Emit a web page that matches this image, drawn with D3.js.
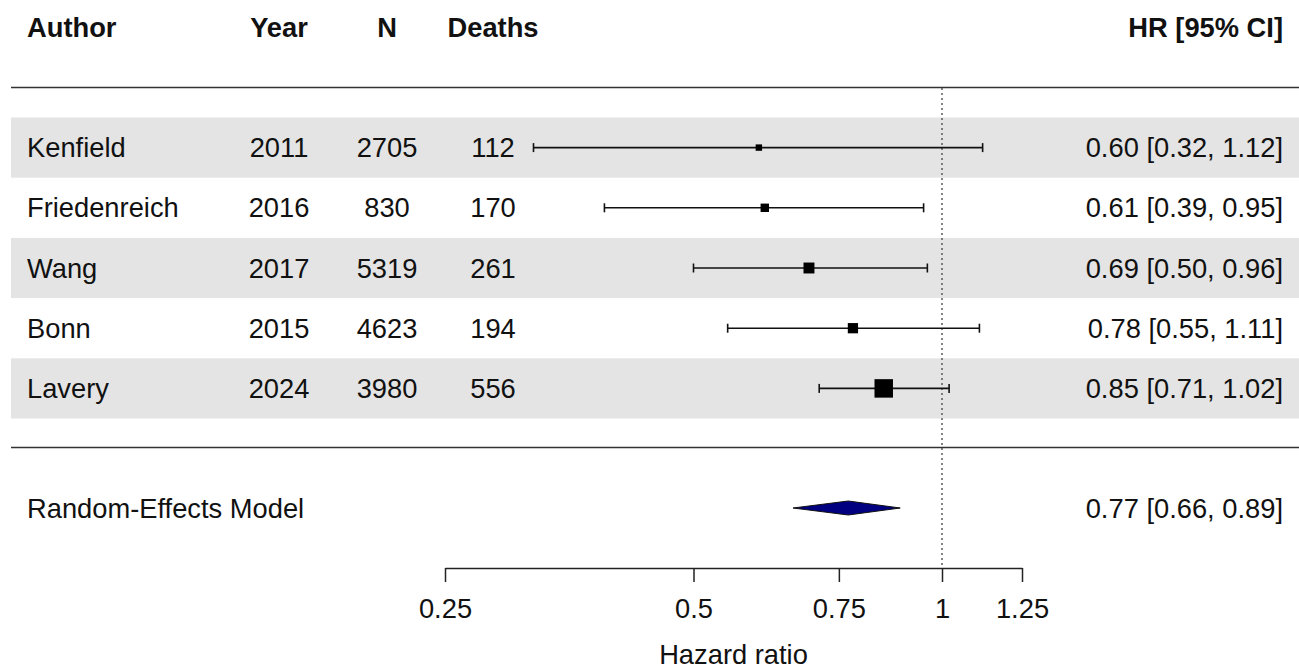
<!DOCTYPE html>
<html>
<head>
<meta charset="utf-8">
<script src="https://cdn.jsdelivr.net/npm/d3@7"></script>
<style>
  body { margin: 0; background: #fff; }
  text { font-family: "Liberation Sans", Arial, sans-serif; fill: #111; }
</style>
</head>
<body>
<script>
// study data
const authors = ["Kenfield", "Friedenreich", "Wang", "Bonn", "Lavery"];
const years = [2011, 2016, 2017, 2015, 2024];
const ns = [2705, 830, 5319, 4623, 3980];
const deaths = [112, 170, 261, 194, 556];
const hr = [0.6, 0.61, 0.69, 0.78, 0.85];
const lower = [0.32, 0.39, 0.5, 0.55, 0.71];
const upper = [1.12, 0.95, 0.96, 1.11, 1.02];
const weights = [4.6, 9.1, 16.9, 14.6, 54.8]; // % weight, drives box size

const pooled = { label: "Random-Effects Model", hr: 0.77, lo: 0.66, hi: 0.89 };
const xTicks = [0.25, 0.5, 0.75, 1, 1.25];

const data = authors.map((a, i) => ({
  author: a, year: years[i], n: ns[i], deaths: deaths[i],
  hr: hr[i], lo: lower[i], hi: upper[i], w: weights[i]
}));

const width = 1299, height = 669;
const fs = 27.3;
const fmt = d3.format(".2f");

const svg = d3.select("body").append("svg")
  .attr("width", width)
  .attr("height", height);

// scales
const x = d3.scaleLog().domain([0.25, 1.25]).range([445, 1022]);
const y = d3.scaleBand().domain(authors).range([117.5, 418.5]);
const box = d3.scaleSqrt().domain([0, 55]).range([1.5, 18.5]);

const cols = { author: 27, year: 279, n: 387, deaths: 493, hr: 1283 };

// shaded bands
svg.selectAll(".band")
  .data(data.filter((d, i) => i % 2 === 0))
  .enter()
  .append("rect")
  .attr("x", 11)
  .attr("y", (d) => y(d.author))
  .attr("width", width - 11)
  .attr("height", y.bandwidth())
  .attr("fill", "#e4e4e4");

// header
const header = svg.append("g").attr("font-weight", 700).attr("font-size", fs);
header.append("text").attr("x", cols.author).attr("y", 37).text("Author");
header.append("text").attr("x", cols.year).attr("y", 37).attr("text-anchor", "middle").text("Year");
header.append("text").attr("x", cols.n).attr("y", 37).attr("text-anchor", "middle").text("N");
header.append("text").attr("x", cols.deaths).attr("y", 37).attr("text-anchor", "middle").text("Deaths");
header.append("text").attr("x", cols.hr).attr("y", 37).attr("text-anchor", "end").text("HR [95% CI]");

// horizontal rules
svg.selectAll(".rule")
  .data([87.5, 447.5])
  .enter()
  .append("line")
  .attr("x1", 11)
  .attr("x2", width)
  .attr("y1", (d) => d)
  .attr("y2", (d) => d)
  .attr("stroke", "#333")
  .attr("stroke-width", 1.5);

// reference line at HR = 1
svg.append("line")
  .attr("x1", x(1)).attr("x2", x(1))
  .attr("y1", 88).attr("y2", 568)
  .attr("stroke", "#444")
  .attr("stroke-width", 1.3)
  .attr("stroke-dasharray", "2,3");

// study rows
const rows = svg.selectAll(".row")
  .data(data)
  .enter()
  .append("g")
  .attr("transform", (d) => `translate(0, ${y(d.author) + y.bandwidth() / 2})`);

rows.append("text").attr("x", cols.author).attr("y", 9.5).attr("font-size", fs).text((d) => d.author);
rows.append("text").attr("x", cols.year).attr("y", 9.5).attr("font-size", fs).attr("text-anchor", "middle").text((d) => d.year);
rows.append("text").attr("x", cols.n).attr("y", 9.5).attr("font-size", fs).attr("text-anchor", "middle").text((d) => d.n);
rows.append("text").attr("x", cols.deaths).attr("y", 9.5).attr("font-size", fs).attr("text-anchor", "middle").text((d) => d.deaths);
rows.append("text").attr("x", cols.hr).attr("y", 9.5).attr("font-size", fs).attr("text-anchor", "end")
  .text((d) => `${fmt(d.hr)} [${fmt(d.lo)}, ${fmt(d.hi)}]`);

// CI whiskers
rows.append("line")
  .attr("x1", (d) => x(d.lo)).attr("x2", (d) => x(d.hi))
  .attr("stroke", "#111").attr("stroke-width", 1.6);
rows.append("line")
  .attr("x1", (d) => x(d.lo)).attr("x2", (d) => x(d.lo))
  .attr("y1", -4.5).attr("y2", 4.5)
  .attr("stroke", "#111").attr("stroke-width", 1.6);
rows.append("line")
  .attr("x1", (d) => x(d.hi)).attr("x2", (d) => x(d.hi))
  .attr("y1", -4.5).attr("y2", 4.5)
  .attr("stroke", "#111").attr("stroke-width", 1.6);
rows.append("rect")
  .attr("x", (d) => x(d.hr) - box(d.w) / 2)
  .attr("y", (d) => -box(d.w) / 2)
  .attr("width", (d) => box(d.w))
  .attr("height", (d) => box(d.w))
  .attr("fill", "#000");

// pooled estimate
const py = 508;
svg.append("text").attr("x", cols.author).attr("y", py + 9.5).attr("font-size", fs).text(pooled.label);
svg.append("text").attr("x", cols.hr).attr("y", py + 9.5).attr("font-size", fs).attr("text-anchor", "end")
  .text(`${fmt(pooled.hr)} [${fmt(pooled.lo)}, ${fmt(pooled.hi)}]`);
svg.append("polygon")
  .attr("points", [
    [x(pooled.lo), py], [x(pooled.hr), py - 7],
    [x(pooled.hi), py], [x(pooled.hr), py + 7]
  ].join(" "))
  .attr("fill", "#000080")
  .attr("stroke", "#111")
  .attr("stroke-width", 1);

// x axis
const xAxis = d3.axisBottom(x)
  .tickValues(xTicks)
  .tickFormat((d) => d3.format("")(d))
  .tickSize(14)
  .tickSizeOuter(0)
  .tickPadding(17);

const gx = svg.append("g")
  .attr("transform", "translate(0, 568)")
  .call(xAxis);
gx.select(".domain").attr("stroke", "#222").attr("stroke-width", 1.5);
gx.selectAll(".tick line").attr("stroke", "#222").attr("stroke-width", 1.5);
gx.selectAll(".tick text")
  .attr("font-size", fs)
  .attr("font-family", "Liberation Sans, Arial, sans-serif")
  .attr("fill", "#111");

svg.append("text")
  .attr("x", (x.range()[0] + x.range()[1]) / 2)
  .attr("y", 664)
  .attr("text-anchor", "middle")
  .attr("font-size", fs)
  .text("Hazard ratio");
</script>
</body>
</html>
